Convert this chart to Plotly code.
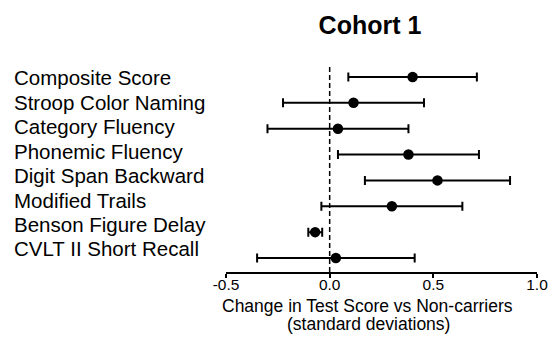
import plotly.graph_objects as go

# Cognitive test outcomes (top to bottom)
tests = [
    "Composite Score",
    "Stroop Color Naming",
    "Category Fluency",
    "Phonemic Fluency",
    "Digit Span Backward",
    "Modified Trails",
    "Benson Figure Delay",
    "CVLT II Short Recall",
]
# Effect estimates and 95% CI bounds (standard deviations vs non-carriers)
estimate = [0.40, 0.115, 0.04, 0.38, 0.52, 0.30, -0.07, 0.03]
ci_lower = [0.09, -0.225, -0.30, 0.04, 0.17, -0.04, -0.103, -0.35]
ci_upper = [0.71, 0.455, 0.38, 0.72, 0.87, 0.64, -0.036, 0.41]

x_ticks = [-0.5, 0.0, 0.5, 1.0]
x_ticktext = ["-0.5", "0.0", "0.5", "1.0"]

FONT = "Liberation Sans, Arial, Helvetica, sans-serif"

err_plus = [u - e for u, e in zip(ci_upper, estimate)]
err_minus = [e - l for e, l in zip(estimate, ci_lower)]

fig = go.Figure()
fig.add_trace(go.Scatter(
    x=estimate,
    y=list(range(len(tests))),
    mode="markers",
    marker=dict(color="black", size=10.5),
    error_x=dict(type="data", symmetric=False, array=err_plus, arrayminus=err_minus,
                 color="black", thickness=2, width=4.5),
    showlegend=False,
    hoverinfo="skip",
))
# helper trace anchoring the label axis
fig.add_trace(go.Scatter(
    x=[None] * len(tests), y=list(range(len(tests))), yaxis="y2",
    mode="markers", showlegend=False, hoverinfo="skip",
))

# reference line at zero effect
fig.add_shape(type="line", x0=0, x1=0, xref="x", y0=0, y1=1, yref="paper",
              line=dict(color="black", width=1.5, dash="5px,3px"))

# left-aligned test names
for i, name in enumerate(tests):
    fig.add_annotation(text=name, xref="paper", x=-0.688, xanchor="left",
                       yref="y2", y=i, yanchor="middle", showarrow=False,
                       font=dict(family=FONT, size=20.5, color="black"))

# x-axis caption (two lines)
fig.add_annotation(text="Change in Test Score vs Non-carriers", xref="paper", x=0.456,
                   xanchor="center", yref="paper", y=-0.165, yanchor="middle",
                   showarrow=False, font=dict(family=FONT, size=17.5, color="black"))
fig.add_annotation(text="(standard deviations)", xref="paper", x=0.459,
                   xanchor="center", yref="paper", y=-0.249, yanchor="middle",
                   showarrow=False, font=dict(family=FONT, size=17.5, color="black"))

fig.update_layout(
    width=559, height=348,
    margin=dict(l=225.7, r=22.3, t=64, b=76, pad=0),
    paper_bgcolor="white", plot_bgcolor="white",
    title=dict(text="<b>Cohort 1</b>", x=370 / 559, xref="container", xanchor="center",
               y=1 - 25 / 348, yref="container", yanchor="middle",
               font=dict(family=FONT, size=25, color="black")),
    xaxis=dict(range=[-0.5, 1.0], tickvals=x_ticks, ticktext=x_ticktext,
               showgrid=False, zeroline=False, showline=True, linecolor="black",
               linewidth=1.5, ticks="outside", ticklen=4, tickwidth=1.5, tickcolor="black",
               ticklabelstandoff=-6,
               tickfont=dict(family=FONT, size=15.5, color="black")),
    yaxis=dict(range=[7.541, -0.501], visible=False, showgrid=False, zeroline=False),
    yaxis2=dict(range=[7.945, -0.563], overlaying="y", visible=False,
                showgrid=False, zeroline=False),
)

fig.write_html("out.html")
